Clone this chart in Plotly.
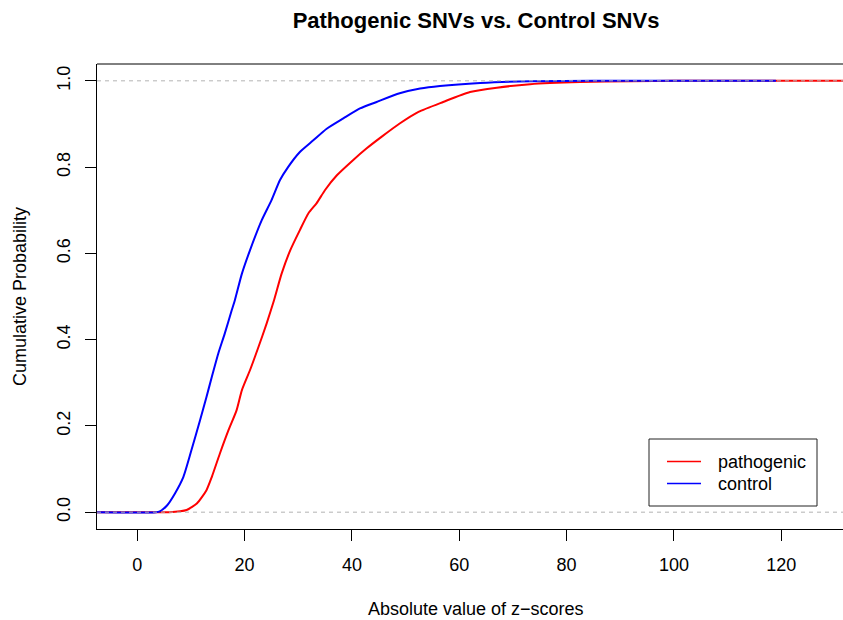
import plotly.graph_objects as go

# ---- data ----
control_x = [-10, 3.5, 4.2, 5.5, 7.0, 8.6, 10.1, 11.7, 12.9, 13.9, 15.1, 16.3, 17.6, 18.2,
             19.5, 21.0, 23.2, 25.0, 26.6, 28.1, 30.3, 32.8, 35.3, 38.4, 41.5, 44.6, 48.9,
             52.7, 56.4, 63.9, 73.2, 85.0, 119.0]
control_y = [0, 0, 0.002, 0.015, 0.043, 0.082, 0.144, 0.213, 0.267, 0.314, 0.368, 0.414,
             0.468, 0.492, 0.553, 0.607, 0.677, 0.723, 0.770, 0.800, 0.835, 0.862, 0.889,
             0.913, 0.936, 0.951, 0.971, 0.982, 0.988, 0.995, 0.999, 1.0, 1.0]

patho_x = [-10, 6.0, 8.0, 9.2, 11.1, 12.9, 13.9, 15.4, 17.0, 18.5, 19.5, 21.0, 22.5, 24.1,
           25.5, 26.9, 28.5, 30.3, 31.9, 33.4, 35.0, 37.2, 40.2, 42.7, 45.5, 48.9, 52.4,
           57.0, 62.0, 67.0, 73.2, 82.5, 91.8, 100.0, 140.0]
patho_y = [0, 0, 0.002, 0.005, 0.020, 0.051, 0.082, 0.136, 0.190, 0.236, 0.283, 0.329,
           0.380, 0.437, 0.492, 0.553, 0.607, 0.654, 0.693, 0.716, 0.747, 0.781, 0.816,
           0.843, 0.870, 0.901, 0.928, 0.951, 0.974, 0.984, 0.992, 0.997, 0.999, 1.0, 1.0]

x_ticks = [0, 20, 40, 60, 80, 100, 120]
y_ticks = [0.0, 0.2, 0.4, 0.6, 0.8, 1.0]
series_names = ["pathogenic", "control"]
series_colors = ["#FF0000", "#0000FF"]

FONT = "Liberation Sans, Arial, Helvetica, sans-serif"

fig = go.Figure()
fig.add_trace(go.Scatter(x=patho_x, y=patho_y, mode="lines", name=series_names[0],
                         line=dict(color=series_colors[0], width=2, shape="spline", smoothing=0.6),
                         showlegend=False))
fig.add_trace(go.Scatter(x=control_x, y=control_y, mode="lines", name=series_names[1],
                         line=dict(color=series_colors[1], width=2, shape="spline", smoothing=0.6),
                         showlegend=False))

# plot geometry (pixels)
W, H = 843, 620
L, T, B = 97, 64, 91
pw, ph = W - L, H - T - B

def px_x(p):
    return (p - L) / pw

def px_y(p):
    return (H - B - p) / ph

shapes = []
# top frame line (right side is beyond the visible area)
shapes.append(dict(type="line", xref="paper", yref="paper", x0=0, x1=1, y0=1, y1=1,
                   line=dict(color="black", width=1)))
# dashed reference lines at 0 and 1
for yv in (0, 1):
    shapes.append(dict(type="line", xref="paper", yref="y", x0=0, x1=1, y0=yv, y1=yv,
                       line=dict(color="#b3b3b3", width=1, dash="4px,4px"), layer="above"))

# manual legend box (R style)
shapes.append(dict(type="rect", xref="paper", yref="paper",
                   x0=px_x(649), x1=px_x(817), y0=px_y(506), y1=px_y(439),
                   line=dict(color="#222222", width=1), fillcolor="white", layer="above"))
annotations = []
for nm, col, yy in zip(series_names, series_colors, (461.5, 483.5)):
    shapes.append(dict(type="line", xref="paper", yref="paper",
                       x0=px_x(667), x1=px_x(701), y0=px_y(yy), y1=px_y(yy),
                       line=dict(color=col, width=1.5), layer="above"))
    annotations.append(dict(text=nm, xref="paper", yref="paper", x=px_x(716), y=px_y(yy),
                            xanchor="left", yanchor="middle", showarrow=False,
                            font=dict(family=FONT, size=18, color="black")))

# axis titles
annotations.append(dict(text="Absolute value of z\u2212scores", xref="paper", yref="paper",
                        x=px_x(476), y=px_y(609), xanchor="center", yanchor="middle",
                        showarrow=False, font=dict(family=FONT, size=18, color="black")))
annotations.append(dict(text="Cumulative Probability", xref="paper", yref="paper",
                        x=px_x(20), y=px_y(297), xanchor="center", yanchor="middle",
                        textangle=-90, showarrow=False,
                        font=dict(family=FONT, size=18, color="black")))

fig.update_layout(
    width=W, height=H,
    margin=dict(l=L, r=0, t=T, b=B, autoexpand=False),
    paper_bgcolor="white", plot_bgcolor="white",
    title=dict(text="<b>Pathogenic SNVs vs. Control SNVs</b>", xref="paper", x=px_x(476),
               xanchor="center", yref="container", y=1 - 20 / H, yanchor="middle",
               font=dict(family=FONT, size=22, color="black")),
    font=dict(family=FONT, size=18, color="black"),
    shapes=shapes, annotations=annotations,
    xaxis=dict(range=[-7.5, 131.5], tickvals=x_ticks, ticktext=[str(v) for v in x_ticks],
               showgrid=False, zeroline=False, showline=True, linecolor="black", linewidth=1,
               ticks="outside", ticklen=11, tickwidth=1, tickcolor="black",
               tickfont=dict(family=FONT, size=18, color="black"), ticklabelstandoff=8),
    yaxis=dict(range=[-0.039, 1.039], tickvals=y_ticks,
               ticktext=["%.1f" % v for v in y_ticks], tickangle=-90,
               showgrid=False, zeroline=False, showline=True, linecolor="black", linewidth=1,
               ticks="outside", ticklen=11, tickwidth=1, tickcolor="black",
               tickfont=dict(family=FONT, size=18, color="black"), ticklabelstandoff=8),
)

fig.write_html("out.html")
